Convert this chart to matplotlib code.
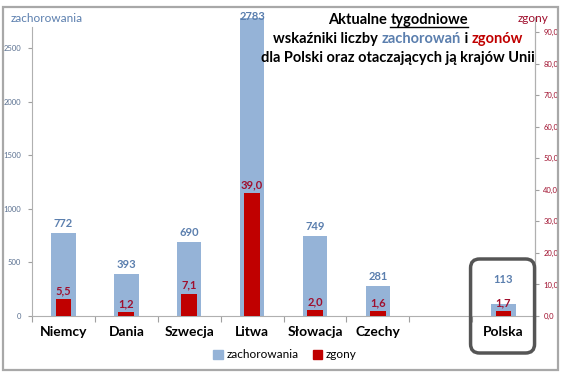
import matplotlib
matplotlib.use("Agg")
import matplotlib.pyplot as plt
from matplotlib.patches import Patch, Rectangle, FancyBboxPatch
from matplotlib.transforms import IdentityTransform
import numpy as np

countries = ["Niemcy", "Dania", "Szwecja", "Litwa", "Słowacja", "Czechy", "", "Polska"]
cases = [772, 393, 690, 2783, 749, 281, np.nan, 113]
deaths = [5.5, 1.2, 7.1, 39.0, 2.0, 1.6, np.nan, 1.7]
left_ticks = [0, 500, 1000, 1500, 2000, 2500]
right_ticks = [0, 10, 20, 30, 40, 50, 60, 70, 80, 90]

BLUE = "#95b3d7"
BLUE_TXT = "#5b7fae"
RED = "#c00000"
RED_TXT = "#a0102e"

plt.rcParams['font.family'] = ['Lato', 'DejaVu Sans']

W, H = 564, 373
fig = plt.figure(figsize=(W / 100, H / 100), dpi=100)
fig.patch.set_facecolor("white")

# outer chart frame
fig.add_artist(Rectangle((3 / W, 3 / H), 555 / W, 363 / H, transform=fig.transFigure,
                         fill=False, edgecolor="#a8a8a8", lw=1.6))

ax = fig.add_axes([32 / W, (H - 316) / H, 503 / W, 299 / H])
ax2 = ax.twinx()

x = np.arange(len(countries))
ax.bar(x, cases, width=0.39, color=BLUE, zorder=2)
ax2.bar(x, deaths, width=0.25, color=RED, zorder=3)

ax.set_xlim(-0.5, len(countries) - 0.5)
ax.set_ylim(0, 2790)
ax2.set_ylim(0, 94.8)

# category ticks between bars, labels at centres
ax.set_xticks(np.arange(-0.5, len(countries), 1.0))
ax.set_xticklabels([])
ax.set_xticks(x, minor=True)
ax.set_xticklabels(countries, minor=True, fontsize=10, fontweight="bold")
ax.tick_params(axis="x", which="major", length=4, color="#a0a0a0", direction="out")
ax.tick_params(axis="x", which="minor", length=0, pad=7)

ax.set_yticks(left_ticks)
ax.set_yticklabels([str(t) for t in left_ticks], fontsize=5.5, color="#5a7090")
ax.tick_params(axis="y", length=3, color="#a0a0a0", pad=5)
ax2.set_yticks(right_ticks)
ax2.set_yticklabels([f"{t:.1f}".replace(".", ",") for t in right_ticks], fontsize=5.5, color=RED_TXT)
ax2.tick_params(axis="y", length=3, color="#a0a0a0", pad=3)

for a in (ax, ax2):
    a.spines["top"].set_visible(False)
    for s in ("left", "right", "bottom"):
        a.spines[s].set_color("#b0b0b0")
ax.spines["left"].set_bounds(0, 2700)
ax2.spines["right"].set_bounds(0, 92)
ax2.spines["left"].set_visible(False)
ax2.spines["bottom"].set_visible(False)

# value labels (blue label pushed up when it would sit on the red one)
for xi, c, d in zip(x, cases, deaths):
    if np.isnan(c):
        continue
    red_top = ax2.transData.transform((xi, d))[1]
    blue_top = ax.transData.transform((xi, c))[1]
    off = 3 if c < 2700 else -3
    off = max(off, (red_top + 26 - blue_top) * 0.72)
    ax.annotate(f"{c:.0f}", (xi, c), xytext=(0, off), textcoords="offset points",
                ha="center", va="bottom", fontsize=8, fontweight="bold", color=BLUE_TXT, zorder=5)
    ax2.annotate(f"{d:.1f}".replace(".", ","), (xi, d), xytext=(0, 2), textcoords="offset points",
                 ha="center", va="bottom", fontsize=8, fontweight="bold", color=RED_TXT, zorder=5)

# axis titles
fig.text(11 / W, 1 - 18 / H, "zachorowania", fontsize=8.5, color=BLUE_TXT, va="center", ha="left")
fig.text(548 / W, 1 - 18 / H, "zgony", fontsize=8.5, color=RED_TXT, va="center", ha="right")

# title block
renderer = fig.canvas.get_renderer()
cx = 398
fs = 10.5


def text_width(s):
    t = fig.text(0, 0, s + "|", fontsize=fs, fontweight="bold")
    w1 = t.get_window_extent(renderer).width
    t.set_text("|")
    w2 = t.get_window_extent(renderer).width
    t.remove()
    return w1 - w2


def colored_line(parts, y):
    full = "".join(p for p, _ in parts)
    start = cx - text_width(full) / 2
    prefix = ""
    out = []
    for p, col in parts:
        xpos = start + text_width(prefix)
        t = fig.text(xpos / W, 1 - y / H, p, fontsize=fs, fontweight="bold", color=col,
                     ha="left", va="center")
        out.append((t, xpos, text_width(p)))
        prefix += p
    return out


line1 = colored_line([("Aktualne ", "black"), ("tygodniowe", "black")], 20)
_, ux, uw = line1[1]
fig.add_artist(plt.Line2D([ux / W, (ux + uw) / W], [1 - 27 / H, 1 - 27 / H],
                          transform=fig.transFigure, color="black", lw=1))
colored_line([("wskaźniki liczby ", "black"), ("zachorowań", BLUE_TXT), (" i ", "black"),
              ("zgonów", RED)], 39)
colored_line([("dla Polski oraz otaczających ją krajów Unii", "black")], 58)

# legend
handles = [Patch(color=BLUE, label="zachorowania"), Patch(color=RED, label="zgony")]
fig.legend(handles=handles, loc="center", bbox_to_anchor=(285 / W, 1 - 355 / H), ncol=2,
           frameon=False, fontsize=8.5, handlelength=0.8, handleheight=0.8, handletextpad=0.3,
           columnspacing=1.2)

# highlight box around Polska
px = ax.transData.transform((7, 0))[0]
fig.add_artist(FancyBboxPatch((px - 33, H - 353), 64, 94, transform=IdentityTransform(),
                              boxstyle="round,pad=0,rounding_size=9", fill=False,
                              edgecolor="#555555", lw=2.5, zorder=10))

fig.savefig("out.png", dpi=100)
